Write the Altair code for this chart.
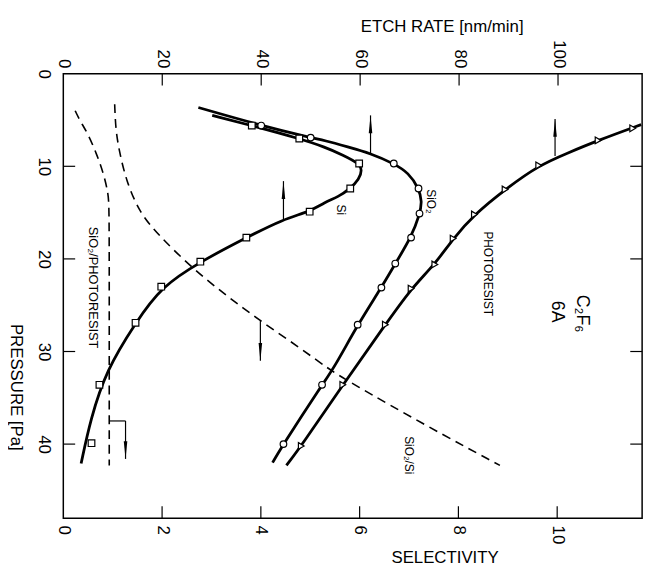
import altair as alt
import pandas as pd

FONT = "Liberation Sans"

# ---- axis tick values ----
pressure_ticks = [0, 10, 20, 30, 40]
etch_ticks = [0, 20, 40, 60, 80, 100]
sel_ticks = [0, 2, 4, 6, 8, 10]
inner_p_ticks = [10, 20, 30, 40]
inner_etch_ticks = [20, 40, 60, 80, 100]
inner_sel_ticks = [2, 4, 6, 8, 10]

# ---- fitted curves: etch rate [nm/min] vs pressure [Pa] ----
si_curve_etch = [30.1, 38.1, 47.7, 52.8, 56.6, 59.8, 60.4, 59.8, 58.0, 55.6, 52.8, 49.8, 44.5, 37.0, 27.7, 19.8, 14.6, 8.7, 5.5, 3.6]
si_curve_p = [4.5, 5.6, 7.0, 7.9, 8.8, 9.7, 10.4, 11.4, 12.4, 13.3, 13.9, 14.9, 15.7, 17.7, 20.3, 23.0, 26.9, 32.0, 37.3, 42.1]

sio2_curve_etch = [27.3, 40.0, 50.0, 52.8, 57.5, 62.1, 66.8, 69.8, 71.9, 72.5, 72.1, 70.3, 67.1, 64.3, 59.5, 54.8, 52.3, 44.5, 42.3]
sio2_curve_p = [3.65, 5.6, 6.9, 7.2, 7.9, 8.6, 9.7, 10.7, 12.4, 13.8, 15.1, 17.7, 20.5, 23.1, 27.1, 31.7, 33.6, 40.0, 42.0]

pr_curve_etch = [116.8, 108.1, 101.8, 96.1, 89.3, 83.1, 78.8, 75.1, 70.3, 65.1, 56.5, 48.1, 45.1]
pr_curve_p = [5.5, 7.2, 8.6, 9.9, 12.5, 15.2, 17.8, 20.6, 23.2, 27.1, 33.6, 40.2, 42.3]

# ---- measured points ----
si_pts_etch = [38.1, 47.7, 59.8, 58.0, 49.8, 37.0, 27.7, 19.8, 14.6, 7.3, 5.7]
si_pts_p = [5.6, 7.0, 9.7, 12.4, 14.9, 17.7, 20.3, 23.0, 26.9, 33.6, 39.9]
sio2_pts_etch = [40.0, 50.0, 66.8, 71.8, 72.0, 70.3, 67.1, 64.3, 59.5, 52.3, 44.5]
sio2_pts_p = [5.6, 6.9, 9.7, 12.4, 15.1, 17.7, 20.5, 23.1, 27.1, 33.6, 40.0]
pr_pts_etch = [115.1, 108.1, 96.1, 89.3, 83.1, 78.8, 75.1, 70.3, 65.1, 56.5, 48.1]
pr_pts_p = [5.9, 7.2, 9.9, 12.5, 15.2, 17.8, 20.6, 23.2, 27.1, 33.6, 40.2]

# ---- selectivity curves (dashed) ----
sio2_si_sel = [1.04, 1.06, 1.13, 1.27, 1.54, 1.94, 2.61, 3.31, 3.99, 4.74, 5.4, 5.8, 7.34, 8.84]
sio2_si_p = [3.3, 6.0, 8.3, 11.5, 15.0, 17.5, 21.0, 24.0, 26.7, 29.4, 32.0, 33.3, 38.0, 42.3]
sio2_pr_sel = [0.24, 0.34, 0.50, 0.67, 0.81, 0.91, 0.93, 0.93, 0.93]
sio2_pr_p = [4.0, 5.1, 6.5, 8.6, 10.7, 12.9, 14.5, 25.0, 42.3]

# ---- annotations ----
label_text = ["Si", "SiO\u2082", "PHOTORESIST", "C\u2082F\u2086", "6A", "SiO\u2082/Si", "SiO\u2082/PHOTORESIST"]
label_etch = [56.1, 74.4, 85.8, 104.8, 99.8, 69.8, 6.0]
label_p = [14.7, 13.8, 21.6, 25.9, 25.7, 41.2, 23.1]
label_size = [12, 12, 12, 18, 18, 12, 13]

# arrows pointing to etch-rate axis (up)
up_arrow_etch = [44.5, 62.1, 99.4]
up_arrow_tip = [11.6, 4.5, 4.9]
up_arrow_end = [15.7, 8.6, 8.9]
# arrows pointing to selectivity axis (down)
down_arrow_sel = [3.99, 1.26]
down_arrow_start = [26.7, 37.5]
down_arrow_tip = [31.0, 41.6]
bracket_sel = [0.93, 1.26]
bracket_p = [37.5, 37.5]


def series_frame(xname, groups):
    rows = []
    for name, xs, ps in groups:
        for i, (xv, pv) in enumerate(zip(xs, ps)):
            rows.append({xname: xv, "p": pv, "series": name, "order": i})
    return pd.DataFrame(rows)


curves_df = series_frame("etch", [("Si", si_curve_etch, si_curve_p),
                                  ("SiO2", sio2_curve_etch, sio2_curve_p),
                                  ("PR", pr_curve_etch, pr_curve_p)])
pts_df = series_frame("etch", [("Si", si_pts_etch, si_pts_p),
                               ("SiO2", sio2_pts_etch, sio2_pts_p),
                               ("PR", pr_pts_etch, pr_pts_p)])
dash_df = series_frame("sel", [("SiO2/Si", sio2_si_sel, sio2_si_p),
                               ("SiO2/PR", sio2_pr_sel, sio2_pr_p)])
labels_df = pd.DataFrame({"etch": label_etch, "p": label_p, "label": label_text, "fs": label_size})
up_df = pd.DataFrame({"etch": up_arrow_etch, "p": up_arrow_tip, "p2": up_arrow_end})
down_df = pd.DataFrame({"sel": down_arrow_sel, "p": down_arrow_start, "p2": down_arrow_tip})
bracket_df = pd.DataFrame({"sel": bracket_sel + [bracket_sel[1]], "p": bracket_p + [bracket_p[1]], "order": [0, 1, 2]})
ptick_df = pd.DataFrame({"p": inner_p_ticks})
etick_df = pd.DataFrame({"etch": inner_etch_ticks})
stick_df = pd.DataFrame({"sel": inner_sel_ticks})

W, H = 586, 450
TICK = 12

common_axis = dict(ticks=False, domain=False, grid=False, labelFlush=False, labelOverlap=False,
                   labelFont=FONT, titleFont=FONT, labelFontSize=17, titleFontSize=17,
                   titleFontWeight="normal", labelColor="black", titleColor="black")

y_axis = alt.Axis(values=pressure_ticks, orient="left", title="PRESSURE  [Pa]",
                  labelAngle=90, labelAlign="center", labelBaseline="top", labelPadding=12,
                  titleAngle=90, titleX=-48, titleY=317, titleAlign="center", titleBaseline="middle",
                  **common_axis)
etch_axis = alt.Axis(values=etch_ticks, orient="top", title="ETCH RATE  [nm/min]",
                     labelAngle=90, labelAlign="right", labelBaseline="middle", labelPadding=6,
                     titleAngle=0, titleX=383, titleY=-48, titleAlign="center", titleBaseline="middle",
                     **common_axis)
sel_axis = alt.Axis(values=sel_ticks, orient="bottom", title="SELECTIVITY",
                    labelAngle=90, labelAlign="left", labelBaseline="middle", labelPadding=7,
                    titleAngle=0, titleX=386, titleY=40, titleAlign="center", titleBaseline="middle",
                    **common_axis)

p_scale = alt.Scale(domain=[0, 48], reverse=True, nice=False, zero=False)
y_enc = alt.Y("p:Q", scale=p_scale, axis=y_axis)
x_etch = alt.X("etch:Q", scale=alt.Scale(domain=[0, 117], nice=False, zero=False), axis=etch_axis)
x_sel = alt.X("sel:Q", scale=alt.Scale(domain=[0, 11.72], nice=False, zero=False), axis=sel_axis)

UP = "M0,-1L0.2,1L-0.2,1Z"
DOWN = "M0,1L0.2,-1L-0.2,-1Z"

solid = alt.Chart(curves_df).mark_line(color="black", strokeWidth=2.8, interpolate="basis").encode(
    x=x_etch, y=y_enc, detail="series:N", order="order:Q")
markers = alt.Chart(pts_df).mark_point(filled=True, fill="white", stroke="black", strokeWidth=1.2,
                                       size=45, opacity=1).encode(
    x=x_etch, y=y_enc,
    shape=alt.Shape("series:N", scale=alt.Scale(domain=["Si", "SiO2", "PR"],
                                                range=["square", "circle", "triangle-right"]), legend=None))
texts = alt.Chart(labels_df).mark_text(angle=90, font=FONT, color="black", align="center", baseline="middle").encode(
    x=x_etch, y=y_enc, text="label:N", size=alt.Size("fs:Q", scale=None, legend=None))
up_shafts = alt.Chart(up_df).mark_rule(color="black", strokeWidth=1.2).encode(x=x_etch, y=y_enc, y2="p2:Q")
up_heads = alt.Chart(up_df).mark_point(shape=UP, filled=True, color="black", size=324, yOffset=9, opacity=1).encode(
    x=x_etch, y=y_enc)
top_ticks = alt.Chart(etick_df).mark_rule(color="black", strokeWidth=1.2).encode(
    x=x_etch, y=alt.value(0), y2=alt.value(TICK))
left_ticks = alt.Chart(ptick_df).mark_rule(color="black", strokeWidth=1.2).encode(
    y=y_enc, x=alt.value(0), x2=alt.value(TICK))
right_ticks = alt.Chart(ptick_df).mark_rule(color="black", strokeWidth=1.2).encode(
    y=y_enc, x=alt.value(W - TICK), x2=alt.value(W))

etch_group = alt.layer(solid, markers, texts, up_shafts, up_heads, top_ticks, left_ticks, right_ticks)

dashed = alt.Chart(dash_df).mark_line(color="black", strokeWidth=1.6, strokeDash=[9, 6], interpolate="basis").encode(
    x=x_sel, y=y_enc, detail="series:N", order="order:Q")
down_shafts = alt.Chart(down_df).mark_rule(color="black", strokeWidth=1.2).encode(x=x_sel, y=y_enc, y2="p2:Q")
down_heads = alt.Chart(down_df).mark_point(shape=DOWN, filled=True, color="black", size=324, yOffset=-9,
                                           opacity=1).encode(x=x_sel, y=alt.Y("p2:Q", scale=p_scale, axis=y_axis))
bracket = alt.Chart(bracket_df).mark_line(color="black", strokeWidth=1.2).encode(x=x_sel, y=y_enc, order="order:Q")
bottom_ticks = alt.Chart(stick_df).mark_rule(color="black", strokeWidth=1.2).encode(
    x=x_sel, y=alt.value(H - TICK), y2=alt.value(H))

sel_group = alt.layer(dashed, down_shafts, down_heads, bracket, bottom_ticks)

chart = alt.layer(etch_group, sel_group).resolve_scale(x="independent").properties(
    width=W, height=H,
    autosize=alt.AutoSizeParams(type="none"),
    padding={"left": 56, "top": 63, "right": 10, "bottom": 54},
    background="white",
).configure_view(stroke="black", strokeWidth=1.5)

chart.save("out.html", embed_options={"renderer": "svg", "actions": False})
